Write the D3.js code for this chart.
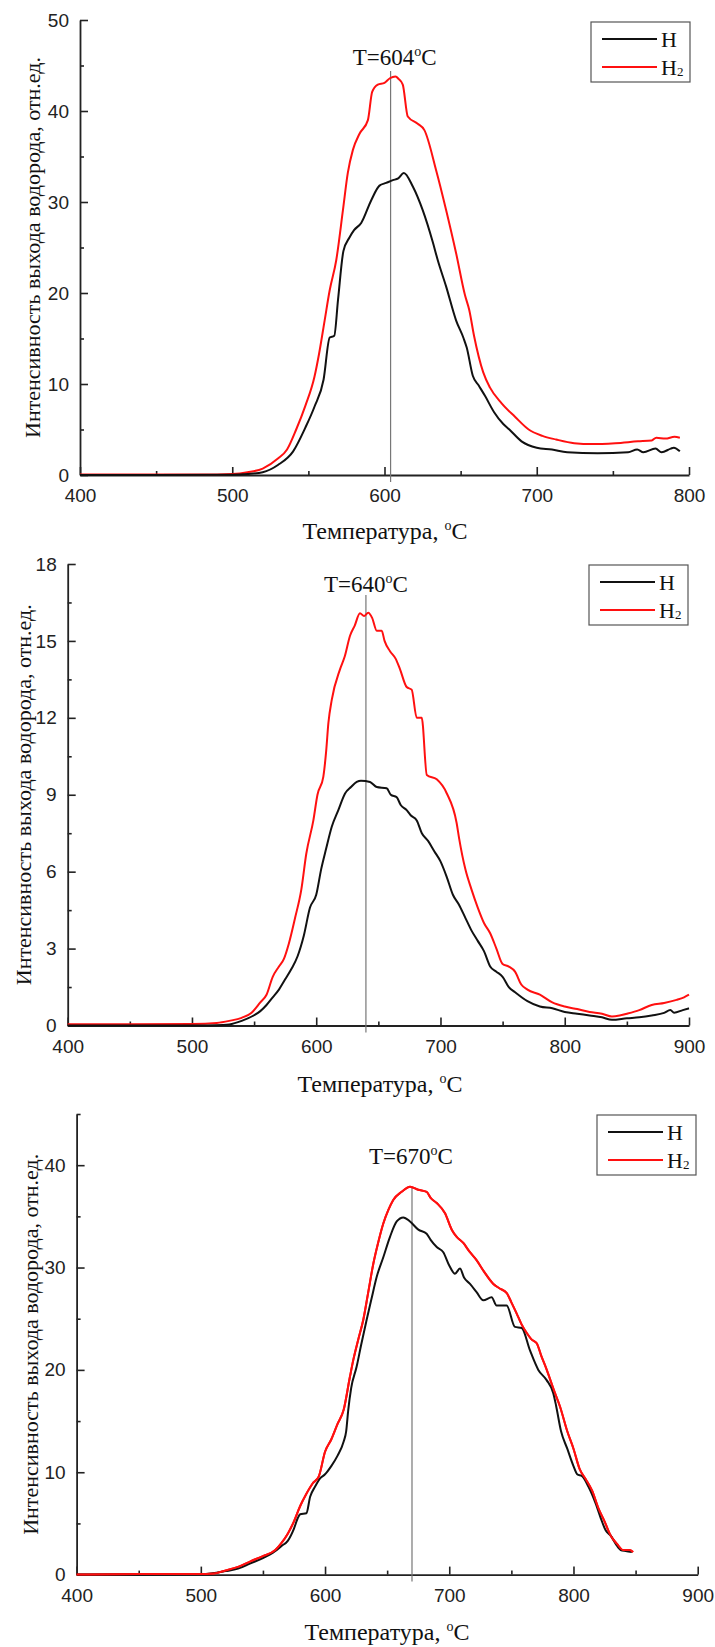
<!DOCTYPE html>
<html>
<head>
<meta charset="utf-8">
<script src="https://cdn.jsdelivr.net/npm/d3@7"></script>
<style>
  body { margin: 0; background: #fff; }
  svg { display: block; }
</style>
</head>
<body>
<svg id="fig" width="715" height="1647"></svg>
<script>
// --- data: [temperature, intensity] ---
const c1H = [[400,0],[450,0],[500,0.02],[510,0.1],[520,0.3],[530,1.1],[540,2.6],[548,5.2],[554,7.5],[560,10.5],[564,15.1],[567,15.3],[569.5,19.3],[573,24.6],[577,26.1],[580,26.9],[584.7,27.7],[591.3,30.2],[596.7,31.8],[601.1,32.1],[605.5,32.4],[609,32.6],[612.7,33.2],[618.6,31.7],[625.1,29.1],[631.7,25.6],[635,23.6],[640.5,20.7],[647,17.0],[652,15.0],[654,14.0],[658,10.9],[662,9.8],[666,8.7],[672,6.9],[678,5.6],[682,5.0],[690,3.7],[700,3.0],[710,2.8],[720,2.5],[740,2.4],[760,2.5],[766,2.8],[770,2.5],[778,2.9],[782,2.5],[788,2.9],[790,3.0],[794,2.6]];
const c1H2 = [[400,0.05],[450,0.05],[490,0.05],[500,0.1],[510,0.3],[520,0.7],[530,1.8],[536,2.8],[542,5.0],[548,7.6],[554,10.8],[557,13.3],[560.7,17.0],[564,20.3],[568.3,23.6],[572.7,29.1],[575.9,33.2],[579.2,35.7],[583.6,37.5],[589.1,39.0],[591.9,42.1],[595.6,42.9],[600,43.1],[603.5,43.6],[607.2,43.8],[609.4,43.5],[612,42.9],[615.3,39.4],[621.8,38.6],[626.2,37.9],[633.9,33.5],[640.5,29.1],[647,24.4],[652.8,19.8],[655.7,18.1],[658.8,15.3],[664.8,11.3],[669.3,9.6],[676.8,7.9],[685.7,6.4],[694.7,5.0],[703.7,4.3],[712.7,3.9],[724.6,3.5],[736.6,3.4],[751.6,3.5],[766.5,3.7],[775.5,3.8],[778.5,4.1],[784.5,4.0],[790.5,4.2],[794,4.1]];

const c2H = [[400,0],[450,0],[500,0],[525,0.02],[530,0.04],[540,0.18],[550,0.4],[555,0.56],[560,0.8],[565,1.1],[570,1.4],[575,1.8],[580,2.2],[585,2.7],[590,3.5],[595,4.6],[600,5.1],[604,6.1],[608,6.9],[612.5,7.75],[617.8,8.4],[623.2,9.05],[628,9.3],[632.6,9.5],[636,9.55],[643.3,9.5],[648.7,9.3],[656.7,9.25],[660,9.0],[664.8,8.9],[668,8.6],[672.8,8.4],[676,8.2],[680.9,8.0],[685,7.5],[690,7.2],[695,6.8],[700,6.4],[705,5.8],[710,5.1],[715,4.7],[720,4.2],[725,3.7],[730,3.3],[735,2.9],[740,2.3],[745,2.1],[750,1.9],[755,1.5],[760,1.3],[770,0.95],[780,0.74],[790,0.67],[800,0.53],[810,0.46],[820,0.39],[830,0.32],[838,0.22],[850,0.28],[860,0.32],[870,0.39],[880,0.49],[885,0.6],[888,0.5],[895,0.6],[900,0.67]];
const c2H2 = [[400,0.05],[450,0.05],[500,0.06],[520,0.1],[530,0.18],[540,0.3],[548,0.5],[555,0.9],[560,1.2],[565,1.9],[570,2.3],[574,2.6],[578,3.2],[583,4.2],[588,5.3],[592,6.7],[597.7,8.0],[601,9.0],[605.7,9.7],[608,10.7],[609.8,11.8],[612.5,12.7],[619.2,13.9],[623,14.4],[627.2,15.2],[631,15.6],[635.2,16.08],[638.5,15.97],[641.9,16.1],[645,15.9],[648.7,15.4],[652.7,15.4],[655,15.0],[659.4,14.6],[664,14.3],[667.4,13.9],[672.8,13.2],[676.8,13.1],[680.9,12.0],[684.9,12.0],[689,9.77],[697,9.6],[705,9.06],[713,7.9],[715,7.3],[720,6.1],[725,5.3],[730,4.6],[735,4.0],[740,3.6],[745,3.0],[750,2.4],[755,2.3],[760,2.1],[765,1.6],[770,1.4],[780,1.2],[790,0.9],[800,0.74],[810,0.64],[820,0.53],[830,0.46],[838,0.35],[845,0.4],[850,0.46],[860,0.6],[870,0.8],[880,0.88],[890,1.0],[896,1.1],[900,1.2]];

const c3H = [[400,0],[450,0],[500,0.05],[520,0.34],[530,0.58],[540,1.1],[550,1.6],[560,2.3],[565,2.8],[570,3.3],[575,4.5],[578,5.5],[580,5.9],[585,6.0],[588,7.6],[592,8.6],[596,9.4],[600,9.8],[605,10.6],[610,11.6],[615,13.0],[617,14.0],[618.7,16.1],[621,18.2],[625.4,20.3],[629,22.4],[633.5,24.9],[637.5,27.0],[641.6,29.1],[646.9,31.0],[652.3,33.0],[657.7,34.5],[663,34.9],[668.4,34.5],[675.1,33.7],[681.8,33.3],[685,32.7],[689.9,32.0],[695.2,31.5],[700,30.2],[704.6,29.4],[708.6,29.9],[712,29.0],[716.7,28.4],[722,27.6],[727.4,26.8],[734.1,27.1],[738.1,26.3],[746.2,26.3],[752.9,24.2],[758.3,24.1],[765,21.9],[771.7,20.0],[778.4,19.0],[783.8,17.7],[786,16.5],[790,14.0],[795,12.3],[800,10.6],[803,9.8],[807,9.6],[812,8.6],[818,6.9],[822,5.5],[826,4.3],[830,3.8],[834,3.0],[838,2.4],[842,2.3],[847,2.2]];
const c3H2 = [[400,0],[450,0.05],[500,0.05],[510,0.1],[520,0.4],[530,0.75],[540,1.3],[550,1.8],[560,2.4],[565,3.1],[570,4.0],[575,5.2],[580,6.7],[585,7.9],[590,8.9],[595,9.6],[600,12.0],[605,13.2],[610,14.7],[615,16.1],[620,19.3],[622.8,21.0],[626.8,23.0],[630.8,24.9],[634.8,27.6],[638.9,30.4],[642.9,32.5],[646.9,34.3],[650.9,35.6],[654.9,36.6],[661.7,37.4],[668.4,37.9],[675,37.6],[681.8,37.4],[685,36.8],[689.9,36.3],[696.6,35.3],[702,33.7],[706,33.0],[711.3,32.4],[716,31.6],[722.1,30.7],[728,29.6],[735.5,28.4],[740,28.0],[746.3,27.5],[750,26.6],[754.3,25.5],[758,24.5],[762.4,23.6],[766,23.0],[770.4,22.6],[774,21.4],[778.5,20.0],[784,18.1],[789.2,16.4],[795,14.0],[800,12.3],[805,10.3],[810,9.3],[815,8.2],[820,6.5],[825,5.2],[830,3.8],[835,3.0],[840,2.4],[845,2.4],[848,2.2]];

const peaks = [604, 640, 670];
const xTicks1 = [400, 500, 600, 700, 800];
const xTicks2 = [400, 500, 600, 700, 800, 900];
const yTicks1 = [0, 10, 20, 30, 40, 50];
const yTicks2 = [0, 3, 6, 9, 12, 15, 18];
const yTicks3 = [0, 10, 20, 30, 40];

const yTitle = "Интенсивность выхода водорода, отн.ед.";
const xTitle = "Температура, ";

const svg = d3.select("#fig");
svg.append("rect").attr("width", 715).attr("height", 1647).attr("fill", "#fff");

const serif = "'Liberation Serif', 'Times New Roman', serif";
const sans = "'Liberation Sans', Arial, sans-serif";

function drawChart(c) {
    const x = d3.scaleLinear().domain(c.xDomain).range([c.left, c.right]);
    const y = d3.scaleLinear().domain(c.yDomain).range([c.bottom, c.top]);
    const g = svg.append("g");

    // minor ticks (no labels)
    g.append("g")
        .attr("transform", `translate(0,${c.bottom})`)
        .call(d3.axisBottom(x).tickValues(c.xMinor).tickSize(-4).tickFormat(""))
        .call(a => a.select(".domain").remove());
    g.append("g")
        .attr("transform", `translate(${c.left},0)`)
        .call(d3.axisLeft(y).tickValues(c.yMinor).tickSize(-4).tickFormat(""))
        .call(a => a.select(".domain").remove());

    g.append("g")
        .attr("transform", `translate(0,${c.bottom})`)
        .call(d3.axisBottom(x).tickValues(c.xTicks).tickSize(-8).tickSizeOuter(0).tickPadding(14));
    g.append("g")
        .attr("transform", `translate(${c.left},0)`)
        .call(d3.axisLeft(y).tickValues(c.yTicks).tickSize(-8).tickSizeOuter(0).tickPadding(11));

    g.selectAll(".tick line").attr("stroke", "#222").attr("stroke-width", 1.6);
    g.selectAll(".domain").attr("stroke", "#222").attr("stroke-width", 1.8);
    g.selectAll(".tick text").attr("font-family", sans).attr("font-size", 19).attr("fill", "#222");

    // peak marker
    g.append("line")
        .attr("x1", x(c.peak)).attr("x2", x(c.peak))
        .attr("y1", c.peakTop).attr("y2", c.bottom + 7)
        .attr("stroke", "#777").attr("stroke-width", 1.2);

    const line = d3.line().x(d => x(d[0])).y(d => y(d[1])).curve(d3.curveMonotoneX);
    g.append("path").datum(c.h2).attr("d", line)
        .attr("fill", "none").attr("stroke", "#ff1010").attr("stroke-width", 2);
    g.append("path").datum(c.h).attr("d", line)
        .attr("fill", "none").attr("stroke", "#111").attr("stroke-width", 2);
    if (c.redOnTop) {
        g.append("path").datum(c.h2).attr("d", line)
            .attr("fill", "none").attr("stroke", "#ff1010").attr("stroke-width", 2);
    }

    // peak label
    const lab = g.append("text")
        .attr("x", x(c.peak) + c.labelDx).attr("y", c.labelY)
        .attr("text-anchor", "middle")
        .attr("font-family", serif).attr("font-size", 23).attr("fill", "#111");
    lab.append("tspan").text("T=" + c.peak);
    lab.append("tspan").attr("font-size", 14).attr("dy", -9).text("o");
    lab.append("tspan").attr("dy", 9).text("C");

    // axis titles
    const xt = g.append("text")
        .attr("x", c.xTitleX).attr("y", c.xTitleY)
        .attr("text-anchor", "middle")
        .attr("font-family", serif).attr("font-size", 24).attr("fill", "#111");
    xt.append("tspan").text(xTitle);
    xt.append("tspan").attr("font-size", 14).attr("dy", -9).text("o");
    xt.append("tspan").attr("dy", 9).text("C");

    g.append("text")
        .attr("transform", `translate(${c.yTitleX},${(c.top + c.bottom) / 2}) rotate(-90)`)
        .attr("text-anchor", "middle")
        .attr("font-family", serif).attr("font-size", 22).attr("fill", "#111")
        .text(yTitle);

    // legend
    const lg = g.append("g").attr("transform", `translate(${c.legX},${c.legY})`);
    lg.append("rect").attr("width", 99).attr("height", 60)
        .attr("fill", "#fff").attr("stroke", "#555").attr("stroke-width", 1.2);
    lg.append("line").attr("x1", 11).attr("x2", 66).attr("y1", 17).attr("y2", 17)
        .attr("stroke", "#111").attr("stroke-width", 2.2);
    lg.append("line").attr("x1", 11).attr("x2", 66).attr("y1", 45).attr("y2", 45)
        .attr("stroke", "#ff1010").attr("stroke-width", 2.2);
    lg.append("text").attr("x", 70).attr("y", 25)
        .attr("font-family", serif).attr("font-size", 22).attr("fill", "#111").text("H");
    const h2 = lg.append("text").attr("x", 70).attr("y", 53)
        .attr("font-family", serif).attr("font-size", 22).attr("fill", "#111");
    h2.append("tspan").text("H");
    h2.append("tspan").attr("font-size", 13).attr("dy", 1).text("2");
}

drawChart({
    xDomain: [400, 800], yDomain: [0, 50],
    left: 80, right: 689, top: 20, bottom: 475,
    xTicks: xTicks1, yTicks: yTicks1,
    xMinor: d3.range(450, 800, 100), yMinor: d3.range(5, 50, 10),
    h: c1H, h2: c1H2, peak: peaks[0], peakTop: 71,
    labelDx: 4, labelY: 65,
    xTitleX: 385, xTitleY: 539, yTitleX: 40,
    legX: 591, legY: 22
});

drawChart({
    xDomain: [400, 900], yDomain: [0, 18],
    left: 67.7, right: 689, top: 564, bottom: 1025.5,
    xTicks: xTicks2, yTicks: yTicks2,
    xMinor: d3.range(450, 900, 100), yMinor: d3.range(1.5, 18, 3),
    h: c2H, h2: c2H2, peak: peaks[1], peakTop: 595,
    labelDx: 0, labelY: 592,
    xTitleX: 380, xTitleY: 1092, yTitleX: 31,
    legX: 589, legY: 565
});

drawChart({
    xDomain: [400, 900], yDomain: [0, 45],
    left: 76.6, right: 697.7, top: 1114, bottom: 1574.6,
    xTicks: xTicks2, yTicks: yTicks3,
    xMinor: d3.range(450, 900, 100), yMinor: d3.range(5, 50, 10),
    h: c3H, h2: c3H2, peak: peaks[2], peakTop: 1187,
    labelDx: -1, labelY: 1164,
    xTitleX: 387, xTitleY: 1640, yTitleX: 38,
    legX: 597, legY: 1115, redOnTop: true
});
</script>
</body>
</html>
